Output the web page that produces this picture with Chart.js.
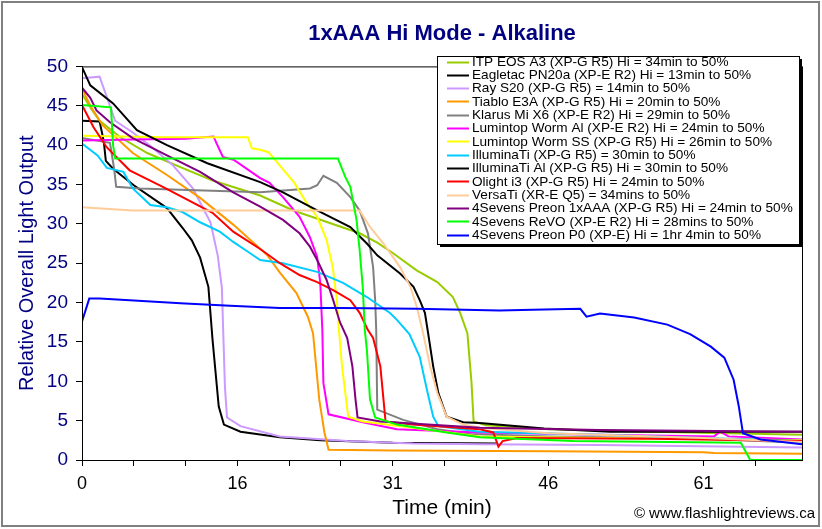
<!DOCTYPE html>
<html><head><meta charset="utf-8">
<script src="https://cdn.jsdelivr.net/npm/chart.js@4.4.1/dist/chart.umd.min.js"></script>
<style>html,body{margin:0;padding:0;background:#fff}#wrap{width:822px;height:529px;position:relative}</style>
</head><body><div id="wrap"><canvas id="c" width="822" height="529"></canvas></div>
<script>
const chartTitle = '1xAAA Hi Mode - Alkaline';
const xTitle = 'Time (min)';
const yTitle = 'Relative Overall Light Output';
const credit = '\u00A9 www.flashlightreviews.ca';
const xTickValues = [0, 15, 30, 45, 60];
const xTickLabels = ['0', '16', '31', '46', '61'];

const seriesLabels = [
  'ITP EOS A3 (XP-G R5) Hi = 34min to 50%',
  'Eagletac PN20a (XP-E R2) Hi = 13min to 50%',
  'Ray S20 (XP-G R5) = 14min to 50%',
  'Tiablo E3A (XP-G R5) Hi = 20min to 50%',
  'Klarus Mi X6 (XP-E R2) Hi = 29min to 50%',
  'Lumintop Worm Al (XP-E R2) Hi = 24min to 50%',
  'Lumintop Worm SS (XP-G R5) Hi = 26min to 50%',
  'IlluminaTi (XP-G R5) = 30min to 50%',
  'IlluminaTi Al (XP-G R5) Hi = 30min to 50%',
  'Olight i3 (XP-G R5) Hi = 24min to 50%',
  'VersaTi (XR-E Q5) = 34mins to 50%',
  '4Sevens Preon 1xAAA (XP-G R5) Hi = 24min to 50%',
  '4Sevens ReVO (XP-E R2) Hi = 28mins to 50%',
  '4Sevens Preon P0 (XP-E) Hi = 1hr 4min to 50%'
];
const seriesColors = ['#99CC00','#000000','#CC99FF','#FF9900','#808080','#FF00FF','#FFFF00',
  '#00CCFF','#000000','#FF0000','#FFCC99','#800080','#00FF00','#0000FF'];

// [minutes, relative output]
const itpEosA3 = [[0,46.5],[0.8,44.8],[1.7,43.1],[3.7,41],[6.3,39],[9.5,37.2],[12.6,35.5],[17.2,33.6],[20.4,31.7],[23.5,30.3],[26.8,28.8],[28.5,27.6],[30,26.3],[32.3,24.1],[34.3,22.6],[35.8,20.7],[36.5,18.7],[37.2,16.1],[37.6,9.8],[37.8,4.9],[39,4.4],[45,3.9],[55,3.6],[69.5,3.2]];
const eagletacPN20a = [[0,43.1],[1.7,43],[2.1,40.5],[2.3,38],[3,37],[5,34.9],[8.2,32],[9.7,29.5],[10.6,27.9],[11.4,25.7],[12.2,22],[12.6,15.3],[13.2,6.8],[13.7,4.5],[15.3,3.6],[19.1,2.9],[23,2.5],[30,2.2],[40,2.1]];
const raySeries = [[0,48.5],[1.7,48.7],[3.2,43.1],[4.9,41.6],[6.8,39.7],[8.8,37.4],[10.7,34.5],[12.4,30.2],[13.1,26],[13.5,21.9],[13.8,9.2],[14,5.4],[15.3,4.3],[19.1,3],[25.6,2.4],[32,2.1],[38.4,2],[50,1.9],[69.5,1.6]];
const tiabloE3A = [[0,47.2],[0.8,45],[2,42.5],[4.9,39],[8.2,36.2],[11.4,33.3],[14.6,29.9],[17.9,26],[19.1,23.8],[20.7,21.2],[21.8,18.2],[22.3,16.1],[22.6,11.9],[22.9,7.7],[23.4,3.5],[23.8,1.3],[30,1.2],[45,1.1],[60,1.0],[61,0.9],[69.5,0.8]];
const klarusMiX6 = [[0,40.9],[2.7,40.3],[3.1,37],[3.3,34.7],[5.6,34.5],[17.2,34],[22,34.5],[22.7,34.9],[23.3,36.1],[24.6,35.2],[25.9,33.4],[26.8,31.7],[27.6,28.8],[28.1,24.5],[28.3,20.3],[28.4,16.5],[28.5,6.4],[31,5.1],[34.3,3.9],[37.5,3.3],[45,3.0],[60,2.7],[69.5,2.2]];
const lumintopWormAl = [[0,40.6],[5,40.7],[10,40.8],[12.7,41.1],[13,40.2],[13.6,38.5],[14.7,38.1],[17.2,35.8],[18.1,35.2],[19.4,33.4],[21,30.9],[22,28.3],[22.7,25.8],[23,22.5],[23.2,16.5],[23.3,9.8],[23.8,5.8],[27.1,4.8],[30.4,3.9],[38.4,3.5],[50,3.2],[61,3.0],[61.6,3.6],[62.4,3.0],[69.5,2.6]];
const lumintopWormSS = [[0,41.2],[8,41],[16,41],[16.4,39.6],[17.2,39.4],[18,39.1],[18.9,37.7],[20.5,35.2],[21.7,32.6],[22.7,30.9],[23.6,28],[24.2,24.5],[24.6,20.3],[24.8,16.5],[25.1,11.9],[25.7,5.5],[27.1,4.9],[31.9,4.1],[38.4,3.0],[50,2.8],[69.5,2.5]];
const illuminaTi = [[0,40.2],[1.5,38.7],[2.4,37.1],[4,36.6],[4.9,34.5],[6.6,32.4],[8.2,32.1],[9.7,31.5],[11.4,30.2],[13.3,29],[14.6,27.7],[16.2,26.3],[17.2,25.4],[19.4,25],[22.7,23.9],[25.2,22.5],[27.5,20.7],[29.7,18.7],[30.4,17.8],[31.6,16],[32.6,13.1],[33.3,8.9],[33.9,5.5],[34.4,4.3],[38.4,3.6],[50,3.2],[60,2.8],[69.5,2.4]];
const illuminaTiAl = [[0,49.9],[0.8,47.6],[3,45.3],[5.3,41.9],[8.2,40],[12.1,37.7],[17.2,35.3],[19.4,34],[22.7,31.7],[25.9,29.6],[27.5,27.5],[28.5,26],[30.7,23.7],[32,22],[32.6,20.3],[33.1,18.7],[33.4,16.2],[33.9,11.9],[34.4,8.5],[35.2,5.5],[36.8,4.8],[38.4,4.7],[44.6,4.0],[51,3.6],[69.5,3.6]];
const olightI3 = [[0,45.1],[1.1,42.3],[2.4,39.7],[4.6,36.8],[7.8,34.7],[12.6,31.4],[14.6,29],[17.2,26.8],[19.1,25],[21,23.5],[22.7,22.6],[24.2,21.6],[25.9,20.3],[26.8,18.7],[27.6,16.5],[28.1,15.5],[28.8,11.9],[29.1,7.7],[29.3,4.9],[31.9,4.5],[38.4,3.9],[39.7,3.5],[40.2,1.7],[40.6,2.4],[42,2.8],[55,2.7],[69.5,2.4]];
const versaTi = [[0,32.1],[4.9,31.7],[26.8,31.7],[27.8,29.6],[29.1,27.5],[30.7,24.5],[31.7,22],[32.3,19.5],[32.9,16.3],[33.6,11.9],[34.3,8.5],[35.2,5.5],[36.8,4.5],[38.4,4.1],[45,3.4],[60,2.8],[69.5,2.3]];
const preon1xAAA = [[0,47.3],[0.8,46],[1.4,44.4],[2.7,42.9],[4.9,40.9],[8.2,38.7],[11.4,36.6],[14.6,34],[17.2,32.2],[19.4,30.5],[21,28.8],[22,27.1],[22.7,25.4],[23.6,22.9],[24.2,20.5],[24.9,17.5],[25.6,15.5],[26.1,11.9],[26.4,7.7],[26.6,5.4],[28.8,4.9],[38.4,4.1],[50,3.8],[69.5,3.6]];
const revo = [[0,45.1],[2.8,44.8],[3.0,40],[3.2,38.3],[24.7,38.3],[25.4,36],[25.9,34.7],[26.5,30.5],[26.8,26.7],[27.1,22],[27.3,16.5],[27.5,14],[27.8,7.7],[28.3,5.4],[30.4,4.5],[35.2,3.5],[38.4,2.9],[47.4,2.4],[63.6,2.2],[64.5,0],[69.5,0]];
const preonP0 = [[0,17.6],[0.7,20.5],[1.7,20.5],[4.6,20.3],[9.5,19.9],[14.3,19.6],[19.1,19.3],[25,19.3],[32.3,19.2],[40.3,19.0],[43.5,19.1],[48.1,19.2],[48.7,18.2],[50,18.6],[53.3,18.1],[56.5,17.2],[58.7,16.0],[60.7,14.4],[62,13.0],[62.9,10.2],[63.4,6.8],[63.8,3.4],[65.5,2.6],[69.5,2.0]];

const seriesData = [itpEosA3, eagletacPN20a, raySeries, tiabloE3A, klarusMiX6, lumintopWormAl,
  lumintopWormSS, illuminaTi, illuminaTiAl, olightI3, versaTi, preon1xAAA, revo, preonP0];

const FONT = '"Liberation Sans", Arial, sans-serif';

const datasets = seriesData.map((pts, i) => ({
  label: seriesLabels[i],
  data: pts.map(([x, y]) => ({x, y})),
  borderColor: seriesColors[i],
  backgroundColor: seriesColors[i],
  borderWidth: 2,
  pointRadius: 0,
  tension: 0,
  fill: false,
  order: seriesData.length - i
}));

const decorPlugin = {
  id: 'decor',
  beforeDraw(chart) {
    const ctx = chart.ctx;
    ctx.save();
    ctx.fillStyle = '#fff';
    ctx.fillRect(0, 0, chart.width, chart.height);
    ctx.restore();
  },
  afterDraw(chart) {
    const ctx = chart.ctx;
    const a = chart.chartArea;
    ctx.save();
    ctx.strokeStyle = '#000';
    ctx.lineWidth = 1;
    ctx.strokeRect(a.left + 0.5, a.top + 0.5, a.right - a.left, a.bottom - a.top);
    // legend
    const lx = 437, ly = 56, lw = 362, lh = 188;
    ctx.fillStyle = '#000';
    ctx.fillRect(lx + 3, ly + 3, lw, lh);
    ctx.fillStyle = '#fff';
    ctx.fillRect(lx, ly, lw, lh);
    ctx.strokeStyle = '#000';
    ctx.strokeRect(lx + 0.5, ly + 0.5, lw, lh);
    ctx.font = '13.6px ' + FONT;
    ctx.textBaseline = 'middle';
    ctx.textAlign = 'left';
    chart.data.datasets.forEach((ds, i) => {
      const y = 61.5 + i * 13.33;
      ctx.strokeStyle = ds.borderColor;
      ctx.lineWidth = 2;
      ctx.beginPath();
      ctx.moveTo(447, Math.round(y) + 0.5);
      ctx.lineTo(469, Math.round(y) + 0.5);
      ctx.stroke();
      ctx.fillStyle = '#000';
      ctx.fillText(ds.label, 472, y + 0.5);
    });
    // credit
    ctx.font = '15px ' + FONT;
    ctx.textAlign = 'right';
    ctx.fillStyle = '#000';
    ctx.fillText(credit, 815, 514);
    // outer border
    ctx.strokeStyle = '#808080';
    ctx.lineWidth = 2;
    ctx.strokeRect(2, 2, chart.width - 5, chart.height - 5);
    ctx.restore();
  }
};

new Chart(document.getElementById('c'), {
  type: 'line',
  data: { datasets },
  plugins: [decorPlugin],
  options: {
    responsive: false,
    devicePixelRatio: 1,
    animation: false,
    layout: { padding: { top: 10, right: 20, bottom: 0, left: 0 } },
    plugins: {
      legend: { display: false },
      tooltip: { enabled: false },
      title: {
        display: true, fullSize: false, text: chartTitle, color: '#000080',
        font: { family: FONT, size: 22, weight: 'bold' },
        padding: { top: 11, bottom: 19 }
      }
    },
    scales: {
      x: {
        type: 'linear', min: 0, max: 69.5,
        afterFit(s) { s.height = 69; },
        afterBuildTicks(s) { const t = []; for (let v = 0; v <= 65; v += 5) t.push({value: v}); s.ticks = t; },
        ticks: {
          autoSkip: false, maxRotation: 0, color: '#000', padding: 7,
          font: { family: FONT, size: 18 },
          callback(v) { const i = xTickValues.indexOf(v); return i >= 0 ? xTickLabels[i] : ''; }
        },
        grid: { display: true, drawOnChartArea: false, drawTicks: true, tickLength: 6, color: '#000' },
        border: { display: true, color: '#000' },
        title: { display: true, text: xTitle, color: '#000',
          font: { family: FONT, size: 21 }, padding: { top: 0, bottom: 8 } }
      },
      y: {
        min: 0, max: 50,
        afterFit(s) { s.width = 82; },
        ticks: { stepSize: 5, color: '#000080', padding: 8,
          font: { family: FONT, size: 19 } },
        grid: { display: true, drawOnChartArea: false, drawTicks: true, tickLength: 6, color: '#000' },
        border: { display: true, color: '#000' },
        title: { display: true, text: yTitle, color: '#000080',
          font: { family: FONT, size: 20 }, padding: { top: 15, bottom: 0 } }
      }
    }
  }
});
</script></body></html>
